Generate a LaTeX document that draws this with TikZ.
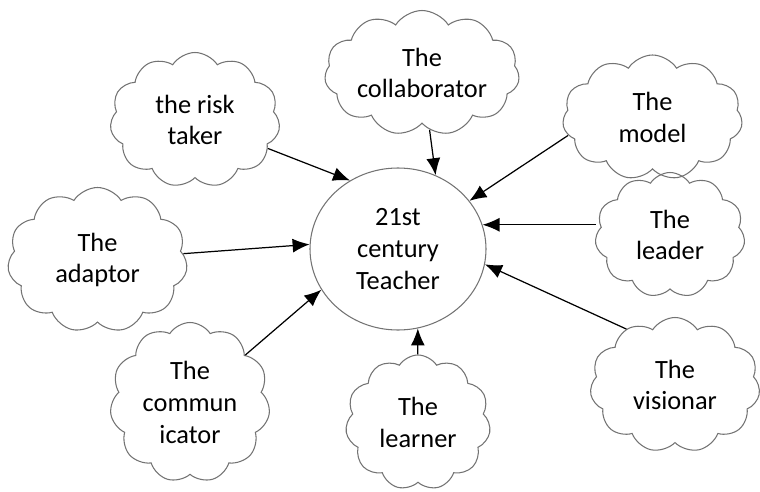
\documentclass[tikz,border=0pt]{standalone}
\usepackage{fontspec}
\setmainfont{Carlito}
\usepackage{tikz}
\usetikzlibrary{shapes,arrows,arrows.meta}
\tikzstyle{cloudbox} = [cloud, draw=black!55, cloud puffs=11, cloud puff arc=115,
cloud ignores aspect, align=center, inner sep=0pt, line width=0.6pt]
\tikzstyle{centre} = [ellipse, draw=black!55, align=center, line width=0.6pt,
minimum width=3.52cm, minimum height=3.24cm]
\tikzstyle{pijl} = [draw, line width=0.7pt, -{Latex[length=3.4mm,width=2.8mm]}]

\begin{document}
\begin{tikzpicture}[font=\fontsize{15}{18}\selectfont]
	\useasboundingbox (0,0) rectangle (15.2,-9.84);
	\node [centre] (teacher) at (7.96,-4.98) {21st\\ century\\ Teacher};
	
	
	\node [cloudbox, minimum width=3.4cm, minimum height=2.7cm] (risk) at (3.9,-2.4) {the risk\\ taker};
	\node [cloudbox, minimum width=3.9cm, minimum height=2.5cm] (collab) at (8.44,-1.46) {The\\ collaborator};
	\node [cloudbox, minimum width=3.6cm, minimum height=2.5cm] (model) at (13.05,-2.35) {The\\ model};
	\node [cloudbox, minimum width=3.6cm, minimum height=2.9cm] (adaptor) at (1.95,-5.2) {The\\ adaptor};
	\node [cloudbox, minimum width=3.0cm, minimum height=2.5cm] (leader) at (13.4,-4.7) {The\\ leader};
	\node [cloudbox, minimum width=3.2cm, minimum height=3.2cm] (commun) at (3.8,-8.05) {The\\ commun\\ icator};
	\node [cloudbox, minimum width=2.9cm, minimum height=2.7cm] (learner) at (8.36,-8.45) {The\\ learner};
	\node [cloudbox, minimum width=3.4cm, minimum height=2.7cm] (vision) at (13.5,-7.7) {The\\ visionar};
	
	
	\path [pijl] (risk)--(teacher.125);
	\path [pijl] (collab)--(teacher.63);
	\path [pijl] (model.192)--(teacher.34);
	\path [pijl] (leader.west |- teacher.16)--(teacher.16);
	\path [pijl] (vision.131)--(teacher.-10);
	\path [pijl] (learner)--(teacher.-76);
	\path [pijl] (commun)--(teacher.208);
	\path [pijl] (adaptor)--(teacher.177);
\end{tikzpicture}
\end{document}
